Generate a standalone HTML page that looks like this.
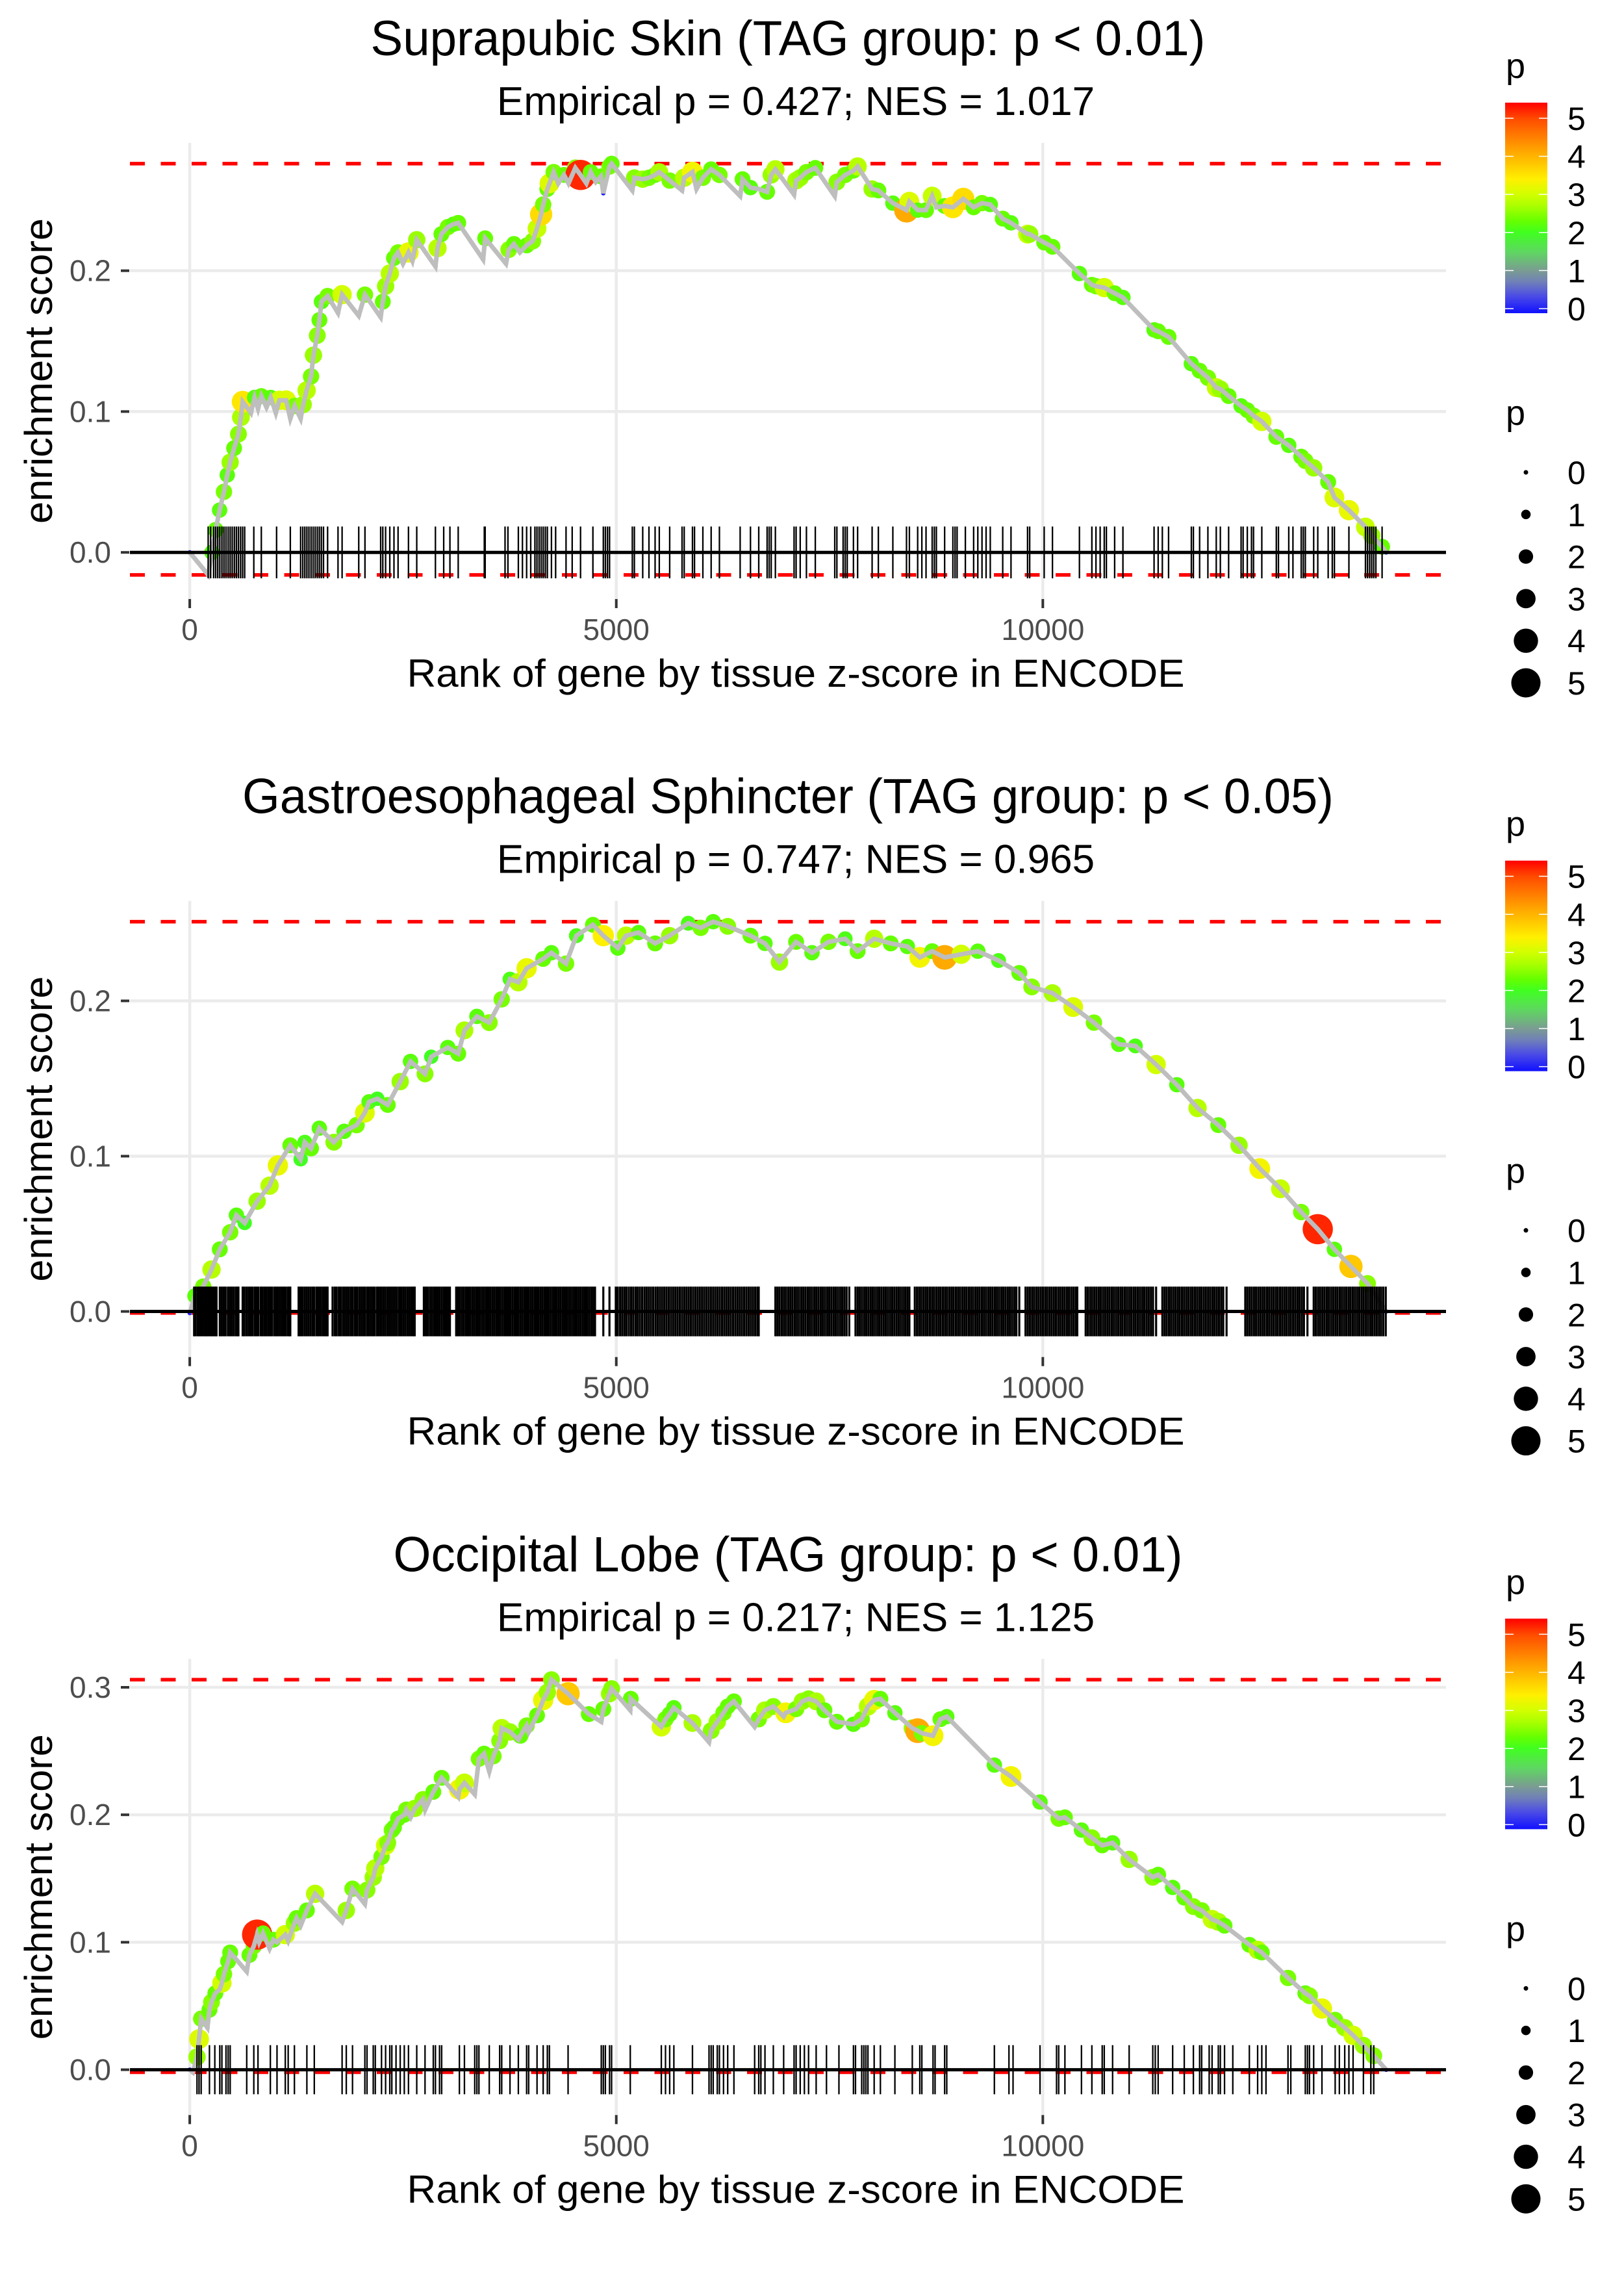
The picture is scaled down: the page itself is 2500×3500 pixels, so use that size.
<!DOCTYPE html>
<html><head><meta charset="utf-8"><title>Enrichment plots</title>
<style>html,body{margin:0;padding:0;background:#fff;}svg{display:block;}</style>
</head><body>
<svg id="chart" xmlns="http://www.w3.org/2000/svg" width="2500" height="3500" viewBox="0 0 2500 3500" font-family="'Liberation Sans', Arial, sans-serif">
<rect x="0" y="0" width="2500" height="3500" fill="#fff"/>
</svg>
<script>
// ---------- data ----------
const p1Title = "Suprapubic Skin (TAG group: p < 0.01)";
const p1Sub = "Empirical p = 0.427; NES = 1.017";
const p1Rank = [0,216,260,304,350,401,440,474,520,571,600,620,717,760,800,839,900,950,1009,1050,1130,1179,1230,1300,1330,1370,1422,1450,1495,1520,1544,1616,1738,1786,1981,2054,2238,2263,2296,2345,2394,2442,2500,2564,2610,2661,2880,2904,2950,3026,3090,3147,3439,3463,3707,3740,3800,3870,3950,4020,4071,4119,4143,4192,4217,4266,4320,4387,4440,4520,4581,4650,4700,4760,4820,4848,4921,4946,5188,5212,5310,5383,5455,5504,5626,5771,5796,5893,5940,6015,6112,6209,6452,6480,6573,6670,6768,6816,6865,7084,7108,7156,7229,7333,7561,7586,7683,7780,7829,7999,8072,8242,8402,8436,8533,8631,8703,8752,8849,8946,9068,9189,9287,9384,9530,9627,9821,9846,10016,10113,10429,10575,10623,10720,10842,10939,11304,11352,11474,11741,11838,11935,12033,12081,12178,12324,12397,12470,12567,12737,12883,13029,13077,13175,13345,13418,13588,13782,13855,13977,14025];
const p1ES = [0,-0.016,0.000,0.016,0.030,0.043,0.055,0.064,0.074,0.084,0.096,0.107,0.099,0.110,0.102,0.111,0.103,0.110,0.099,0.108,0.108,0.095,0.104,0.095,0.105,0.115,0.125,0.140,0.154,0.165,0.178,0.182,0.170,0.183,0.168,0.183,0.167,0.178,0.189,0.198,0.209,0.213,0.205,0.213,0.207,0.222,0.203,0.216,0.226,0.231,0.233,0.234,0.208,0.223,0.205,0.215,0.219,0.213,0.218,0.221,0.230,0.240,0.247,0.258,0.262,0.270,0.262,0.268,0.262,0.273,0.268,0.262,0.270,0.263,0.267,0.255,0.274,0.276,0.257,0.266,0.265,0.266,0.268,0.270,0.264,0.257,0.266,0.270,0.258,0.266,0.272,0.268,0.253,0.265,0.259,0.258,0.256,0.268,0.272,0.254,0.264,0.266,0.270,0.273,0.253,0.263,0.268,0.271,0.274,0.258,0.257,0.248,0.243,0.249,0.243,0.243,0.253,0.245,0.246,0.245,0.251,0.245,0.248,0.247,0.237,0.234,0.226,0.226,0.220,0.217,0.198,0.190,0.189,0.188,0.184,0.181,0.158,0.157,0.153,0.134,0.129,0.124,0.117,0.116,0.111,0.104,0.101,0.097,0.093,0.082,0.076,0.068,0.065,0.060,0.050,0.039,0.030,0.018,0.012,0.004,0];
const p1P = [0,0,2.2,2.3,2.2,2.4,2.2,2.6,2.3,2.5,2.7,3.5,0,2.2,0,2.3,0,2.2,0,3.0,3.1,0,2.4,0,2.6,2.8,2.4,2.6,2.5,2.3,2.2,2.4,0,3.0,0,2.4,0,2.3,2.6,2.8,2.3,2.4,0,3.2,0,2.6,0,2.8,2.3,2.4,2.2,2.3,0,2.3,0,2.5,2.3,0,2.3,2.5,2.9,3.6,2.4,2.3,3.1,2.4,0,2.3,0,2.5,5.2,0,2.3,0,2.3,0,2.4,2.3,0,2.5,2.6,2.4,2.3,2.7,2.4,0,2.8,3.3,0,2.4,2.3,2.4,0,2.3,2.2,0,2.3,2.6,2.8,0,2.7,2.6,2.4,2.3,0,2.5,2.4,2.3,2.8,2.6,2.3,2.2,4.1,3.1,2.2,2.3,2.9,0,2.3,3.5,3.6,2.3,2.4,2.2,2.3,2.2,2.9,2.6,2.3,2.3,2.2,2.3,2.4,3.0,2.3,2.2,2.2,2.3,2.3,2.2,2.3,2.4,2.9,2.6,2.3,2.2,2.3,2.4,3.0,2.3,2.2,2.3,2.4,2.6,2.3,3.1,3.2,2.9,2.6,2.3,0];
const p1Rug = [216,245,280,304,328,352,377,401,425,450,474,498,523,547,571,596,620,644,751,839,1018,1179,1300,1325,1349,1373,1397,1422,1446,1470,1495,1519,1543,1568,1616,1738,1786,1981,2054,2238,2263,2296,2345,2394,2442,2564,2661,2880,2977,3050,3147,3453,3463,3696,3730,3852,3900,3949,3997,4046,4070,4095,4119,4143,4168,4192,4240,4289,4411,4483,4581,4726,4848,4872,4897,4921,5188,5212,5310,5383,5455,5504,5626,5771,5796,5893,5917,6015,6112,6209,6452,6573,6670,6768,6792,6816,6865,7084,7108,7156,7229,7333,7561,7586,7659,7683,7707,7780,7829,7999,8072,8242,8402,8436,8533,8582,8631,8703,8728,8752,8849,8946,8971,8995,9092,9189,9238,9287,9335,9384,9530,9627,9821,9846,10016,10113,10429,10575,10623,10672,10720,10745,10842,10939,11304,11352,11401,11474,11741,11765,11838,11935,12033,12081,12178,12324,12348,12397,12446,12470,12567,12737,12762,12883,12932,13029,13053,13077,13175,13223,13345,13393,13418,13588,13782,13806,13831,13855,13879,13904,13977];
const p1YTicks = [0.0,0.1,0.2];

const p2Title = "Gastroesophageal Sphincter (TAG group: p < 0.05)";
const p2Sub = "Empirical p = 0.747; NES = 0.965";
const p2Rank = [0,61,158,255,352,474,547,644,790,936,1033,1179,1300,1349,1422,1519,1689,1810,1956,2053,2102,2199,2321,2467,2588,2758,2831,3025,3147,3220,3366,3511,3657,3754,3852,3949,4143,4240,4411,4532,4726,4848,5018,5115,5261,5455,5626,5844,5990,6136,6306,6573,6743,6913,7108,7294,7488,7683,7829,8023,8217,8412,8558,8703,8849,9044,9238,9481,9724,9870,10113,10356,10599,10890,11085,11328,11571,11814,12057,12300,12543,12786,13029,13223,13418,13612,13806,14025];
const p2ES = [-0.001,0.010,0.016,0.027,0.040,0.051,0.062,0.057,0.071,0.081,0.094,0.107,0.098,0.109,0.105,0.118,0.109,0.116,0.120,0.128,0.135,0.137,0.133,0.148,0.161,0.153,0.164,0.170,0.166,0.181,0.190,0.186,0.201,0.214,0.212,0.221,0.227,0.231,0.224,0.242,0.249,0.242,0.234,0.242,0.244,0.237,0.242,0.250,0.247,0.251,0.248,0.242,0.237,0.225,0.238,0.231,0.238,0.240,0.232,0.240,0.237,0.235,0.228,0.232,0.228,0.230,0.232,0.226,0.218,0.209,0.205,0.196,0.186,0.172,0.171,0.159,0.146,0.131,0.120,0.107,0.092,0.079,0.064,0.053,0.040,0.029,0.018,0];
const p2P = [0,2.2,2.4,2.8,2.3,2.4,2.2,2.0,2.6,2.8,3.2,2.3,2.0,2.1,2.3,2.2,2.5,2.2,2.4,3.1,2.2,2.0,2.3,2.6,2.2,2.5,2.0,2.2,2.3,2.7,2.2,2.5,2.4,2.1,2.8,3.2,2.3,2.2,2.4,2.1,2.3,3.4,2.2,2.8,2.2,2.3,2.6,2.1,2.4,2.2,2.5,2.3,2.2,2.6,2.3,2.2,2.4,2.1,2.3,2.8,2.3,2.2,3.3,2.3,4.1,3.0,2.2,2.1,2.3,2.5,2.7,3.1,2.4,2.2,2.1,3.0,2.2,2.8,2.3,2.6,3.3,2.9,2.4,5.2,2.2,3.8,2.5,0];
const p2Rug = [51,70,95,112,130,150,172,190,205,226,247,262,281,300,314,352,375,398,420,447,470,492,515,540,558,571,620,641,666,690,712,735,760,781,802,829,850,873,894,918,940,962,988,1010,1031,1055,1078,1100,1122,1147,1165,1179,1276,1298,1320,1345,1368,1391,1415,1440,1462,1488,1510,1534,1558,1580,1601,1616,1674,1700,1722,1748,1770,1795,1818,1842,1866,1890,1912,1937,1960,1985,2008,2031,2053,2078,2101,2125,2148,2170,2196,2218,2242,2266,2289,2313,2336,2360,2384,2407,2430,2455,2478,2502,2525,2549,2572,2596,2618,2637,2744,2768,2790,2815,2838,2862,2885,2909,2932,2956,2980,3003,3027,3050,3123,3145,3168,3192,3215,3240,3262,3286,3310,3333,3357,3380,3404,3428,3451,3475,3498,3522,3546,3569,3593,3616,3640,3664,3688,3711,3735,3758,3782,3806,3829,3853,3877,3900,3924,3947,3971,3995,4018,4042,4066,4089,4113,4136,4160,4184,4207,4231,4255,4278,4302,4326,4349,4373,4396,4420,4444,4467,4491,4515,4538,4562,4585,4609,4633,4656,4680,4704,4727,4751,4848,4920,4994,5018,5045,5070,5096,5121,5148,5174,5199,5226,5251,5277,5303,5330,5355,5381,5407,5433,5460,5485,5511,5537,5563,5589,5615,5641,5667,5693,5719,5745,5771,5797,5823,5849,5875,5901,5927,5953,5979,6005,6031,6057,6083,6109,6135,6161,6187,6213,6239,6265,6291,6317,6343,6369,6395,6421,6447,6473,6499,6525,6551,6577,6603,6629,6655,6670,6865,6889,6914,6940,6965,6990,7016,7041,7066,7092,7117,7142,7168,7193,7218,7244,7269,7294,7320,7345,7370,7396,7421,7446,7472,7497,7522,7548,7573,7598,7624,7649,7674,7700,7731,7804,7830,7855,7880,7906,7931,7956,7982,8007,8032,8058,8083,8108,8134,8159,8184,8210,8235,8260,8286,8311,8336,8362,8387,8412,8436,8499,8525,8550,8575,8601,8626,8651,8677,8702,8727,8753,8778,8803,8829,8854,8879,8905,8930,8955,8981,9006,9031,9057,9082,9107,9133,9158,9183,9209,9234,9259,9285,9310,9335,9361,9386,9411,9437,9462,9487,9513,9538,9563,9589,9614,9639,9665,9690,9724,9797,9823,9848,9874,9899,9925,9950,9976,10001,10027,10052,10078,10103,10129,10154,10180,10205,10231,10256,10282,10307,10333,10358,10384,10404,10502,10527,10553,10578,10604,10629,10655,10680,10706,10731,10757,10782,10808,10833,10859,10884,10910,10935,10961,10986,11012,11037,11063,11088,11114,11139,11165,11190,11216,11241,11267,11292,11328,11401,11427,11452,11478,11503,11529,11554,11580,11605,11631,11656,11682,11707,11733,11758,11784,11809,11835,11860,11886,11911,11937,11962,11988,12013,12039,12064,12090,12115,12154,12373,12398,12424,12449,12475,12500,12526,12551,12577,12602,12628,12653,12679,12704,12730,12755,12781,12806,12832,12857,12883,12908,12934,12959,12985,13010,13036,13061,13102,13175,13200,13226,13251,13277,13302,13328,13353,13379,13404,13430,13455,13481,13506,13532,13557,13583,13608,13634,13659,13685,13710,13736,13761,13787,13812,13838,13863,13889,13914,13940,13965,13991,14020];
const p2YTicks = [0.0,0.1,0.2];

const p3Title = "Occipital Lobe (TAG group: p < 0.01)";
const p3Sub = "Empirical p = 0.217; NES = 1.125";
const p3Rank = [0,36,85,109,134,207,231,255,300,352,377,401,450,474,668,700,751,790,814,860,936,980,1023,1120,1154,1227,1252,1300,1373,1470,1786,1835,1908,2053,2078,2151,2175,2248,2296,2321,2369,2394,2442,2515,2539,2590,2637,2734,2760,2855,2953,3147,3161,3220,3341,3390,3450,3511,3560,3633,3657,3754,3852,3876,3949,3973,4071,4143,4192,4240,4435,4678,4824,4848,4921,4945,5164,5170,5528,5577,5626,5675,5893,6087,6112,6184,6257,6306,6379,6622,6670,6743,6841,6962,6986,7108,7181,7254,7343,7440,7586,7780,7877,7950,8023,8096,8266,8470,8533,8582,8713,8800,8874,9432,9627,9967,10186,10259,10453,10575,10696,10818,11012,11289,11352,11522,11658,11765,11862,11984,12057,12130,12421,12518,12567,12874,13077,13126,13272,13427,13539,13637,13758,13879,14025];
const p3ES = [0,-0.002,0.010,0.024,0.040,0.033,0.047,0.053,0.060,0.063,0.068,0.075,0.085,0.092,0.077,0.090,0.097,0.106,0.100,0.107,0.095,0.102,0.100,0.106,0.101,0.115,0.119,0.113,0.125,0.138,0.116,0.125,0.142,0.130,0.141,0.151,0.158,0.167,0.176,0.178,0.188,0.190,0.197,0.200,0.204,0.198,0.205,0.212,0.204,0.218,0.229,0.214,0.220,0.225,0.216,0.244,0.248,0.234,0.246,0.258,0.268,0.265,0.259,0.262,0.270,0.265,0.278,0.290,0.296,0.306,0.295,0.279,0.273,0.283,0.295,0.299,0.282,0.291,0.269,0.275,0.279,0.284,0.272,0.257,0.266,0.273,0.280,0.285,0.289,0.269,0.275,0.282,0.285,0.277,0.280,0.283,0.289,0.291,0.289,0.282,0.273,0.271,0.275,0.285,0.290,0.291,0.280,0.268,0.266,0.264,0.262,0.275,0.277,0.239,0.230,0.210,0.197,0.198,0.188,0.182,0.176,0.178,0.165,0.151,0.153,0.143,0.135,0.128,0.125,0.118,0.116,0.113,0.098,0.094,0.092,0.072,0.060,0.058,0.048,0.039,0.033,0.027,0.019,0.011,0];
const p3P = [0,0,2.6,3.1,2.4,0,2.3,2.5,2.3,0,3.0,2.4,2.3,2.3,0,2.3,2.4,5.2,0,2.3,0,2.3,0,3.0,0,2.6,2.3,0,2.3,2.8,0,2.6,2.4,0,2.5,2.6,2.8,2.4,3.0,2.5,2.4,2.3,2.3,2.3,2.4,0,2.6,2.5,0,2.3,2.3,0,3.3,2.9,0,2.4,2.3,0,2.4,2.5,2.8,2.6,0,2.3,2.4,0,2.3,3.2,2.6,2.5,3.8,2.3,0,2.3,2.6,2.5,0,2.3,3.0,2.4,2.3,2.2,2.7,0,2.5,2.6,2.4,2.3,2.3,0,2.4,2.7,2.5,0,3.3,2.4,2.6,2.5,2.7,2.3,2.3,2.2,2.4,2.8,3.2,2.3,2.2,2.6,4.1,2.4,3.3,2.3,2.2,2.2,3.3,2.2,2.4,2.3,2.2,2.5,2.3,2.2,2.6,2.5,2.3,2.2,2.3,2.5,2.4,2.9,2.7,2.3,2.3,2.8,2.3,2.4,2.3,2.5,3.2,2.4,2.6,3.0,2.6,2.5,0];
const p3Rug = [85,109,134,231,294,352,377,425,450,474,668,751,800,945,1023,1120,1154,1227,1373,1460,1786,1835,1908,2053,2078,2151,2175,2248,2296,2345,2369,2418,2467,2515,2564,2661,2758,2855,2880,2928,2953,3161,3220,3341,3366,3390,3511,3633,3657,3754,3852,3949,3973,4071,4143,4192,4216,4435,4824,4848,4872,4921,4945,5164,5528,5577,5626,5675,5893,6087,6112,6136,6184,6209,6257,6306,6379,6622,6670,6695,6743,6841,6962,7084,7108,7156,7205,7254,7343,7464,7610,7780,7804,7877,7902,7926,7950,8023,8096,8266,8470,8558,8582,8713,8737,8849,8874,9432,9603,9651,9967,10161,10186,10259,10453,10575,10696,10720,10818,11012,11289,11318,11352,11522,11658,11765,11838,11862,11950,11984,12057,12081,12130,12227,12421,12518,12567,12616,12874,12907,13077,13102,13126,13175,13272,13427,13476,13539,13588,13637,13758,13845,13879];
const p3YTicks = [0.0,0.1,0.2,0.3];

const xTicks = [0,5000,10000];
const legendColorTicks = [0,1,2,3,4,5];
const legendSizeValues = [0,1,2,3,4,5];
const rugHalfs = [0.0184,0.016,0.0193];
const rugWidths = [2.3,3.2,2.3];

// ---------- drawing ----------
const NS = "http://www.w3.org/2000/svg";
const svg = document.getElementById("chart");
function mk(tag, attrs, parent){
  const e = document.createElementNS(NS, tag);
  for (const k in attrs) e.setAttribute(k, attrs[k]);
  (parent || svg).appendChild(e);
  return e;
}
const stops = [[-0.12,"#1010ff"],[0.3,"#4848e8"],[0.7,"#7080b8"],[1.0,"#7a9c92"],[1.5,"#5ed860"],[2.0,"#40ff20"],[2.3,"#66ff00"],[2.7,"#aaff00"],[3.0,"#d2ff00"],[3.4,"#fff000"],[3.8,"#ffc800"],[4.2,"#ffa000"],[4.7,"#ff6a00"],[5.0,"#ff4a00"],[5.41,"#ff0000"]];
function hex2rgb(h){return [parseInt(h.substr(1,2),16),parseInt(h.substr(3,2),16),parseInt(h.substr(5,2),16)];}
function pColor(v){
  if (v <= stops[0][0]) return stops[0][1];
  for (let i=1;i<stops.length;i++){
    if (v <= stops[i][0]){
      const t=(v-stops[i-1][0])/(stops[i][0]-stops[i-1][0]);
      const a=hex2rgb(stops[i-1][1]), b=hex2rgb(stops[i][1]);
      return "rgb("+a.map((c,j)=>Math.round(c+(b[j]-c)*t)).join(",")+")";
    }
  }
  return stops[stops.length-1][1];
}
function pRadius(v){ return 3.5 + 3.8*v; }

const PANEL_H = 1166.67, PL = 200, PR = 2226, PT = 220, PB = 922;
const grad = mk("linearGradient",{id:"pgrad",x1:"0",y1:"1",x2:"0",y2:"0"});
stops.forEach(s=>{ mk("stop",{offset:((s[0]+0.12)/5.53).toFixed(4),"stop-color":s[1]},grad); });

const panels = [
  {title:p1Title, sub:p1Sub, rank:p1Rank, es:p1ES, p:p1P, rug:p1Rug, yt:p1YTicks},
  {title:p2Title, sub:p2Sub, rank:p2Rank, es:p2ES, p:p2P, rug:p2Rug, yt:p2YTicks},
  {title:p3Title, sub:p3Sub, rank:p3Rank, es:p3ES, p:p3P, rug:p3Rug, yt:p3YTicks}
];

panels.forEach((P, i) => {
  const oy = i*PANEL_H;
  const g = mk("g",{});
  
  
  const rh = rugHalfs[i];
  const esMax = Math.max(...P.es), esMin = Math.min(...P.es);
  const lo = Math.min(esMin,-rh), hi = Math.max(esMax, rh);
  const y0 = lo-(hi-lo)*0.05, y1 = hi+(hi-lo)*0.05;
  const xMax = Math.max(...P.rank, ...P.rug);
  const x0 = -xMax*0.05, x1 = xMax*1.05;
  const X = r => PL + (r-x0)/(x1-x0)*(PR-PL);
  const Y = v => oy + PT + (y1-v)/(y1-y0)*(PB-PT);

  const t = mk("text",{x:1213,y:oy+85,"text-anchor":"middle","font-size":76,fill:"#000",textLength:1285,lengthAdjust:"spacingAndGlyphs"},g);
  t.textContent = P.title;
  
  
  if (i===1){ t.setAttribute("textLength", 1680); }
  if (i===2){ t.setAttribute("textLength", 1215); }
  const st = mk("text",{x:1225,y:oy+177,"text-anchor":"middle","font-size":62,fill:"#000"},g);
  st.textContent = P.sub;
  
  

  P.yt.forEach(v=>{
    const l = mk("line",{x1:PL,x2:PR,y1:Y(v),y2:Y(v),stroke:"#ebebeb","stroke-width":4.5},g);
    
    
  });
  xTicks.forEach(v=>{
    const l = mk("line",{x1:X(v),x2:X(v),y1:oy+PT,y2:oy+PB,stroke:"#ebebeb","stroke-width":4.5},g);
    
    
  });

  [esMax, esMin].forEach(v=>{
    const l = mk("line",{x1:PL,x2:PR,y1:Y(v),y2:Y(v),stroke:"#ff0000","stroke-width":5.5,"stroke-dasharray":"23 24.5"},g);
    
    
  });

  P.rank.forEach((r,k)=>{
    const c = mk("circle",{cx:X(r),cy:Y(P.es[k]),r:pRadius(P.p[k]),fill:pColor(P.p[k])},g);
    
    
  });

  const pts = P.rank.map((r,k)=>X(r).toFixed(1)+","+Y(P.es[k]).toFixed(1)).join(" ");
  const pl = mk("polyline",{points:pts,fill:"none",stroke:"#bebebe","stroke-width":7,"stroke-linejoin":"miter"},g);
  
  

  const rg = mk("g",{},g);
  
  
  P.rug.forEach(r=>{
    const l = mk("line",{x1:X(r),x2:X(r),y1:Y(rh),y2:Y(-rh),stroke:"#000","stroke-width":rugWidths[i]},rg);
    
    
  });

  const z = mk("line",{x1:PL,x2:PR,y1:Y(0),y2:Y(0),stroke:"#000","stroke-width":5},g);
  
  

  P.yt.forEach(v=>{
    const tk = mk("line",{x1:186,x2:199,y1:Y(v),y2:Y(v),stroke:"#333","stroke-width":4},g);
    
    
    const lb = mk("text",{x:171,y:Y(v)+16,"text-anchor":"end","font-size":46,fill:"#4d4d4d"},g);
    lb.textContent = v.toFixed(1);
    
    
  });
  xTicks.forEach(v=>{
    const tk = mk("line",{x1:X(v),x2:X(v),y1:oy+922,y2:oy+936,stroke:"#333","stroke-width":4},g);
    
    
    const lb = mk("text",{x:X(v),y:oy+985,"text-anchor":"middle","font-size":46,fill:"#4d4d4d"},g);
    lb.textContent = String(v);
    
    
  });
  const xt = mk("text",{x:1225,y:oy+1057,"text-anchor":"middle","font-size":60,fill:"#000",textLength:1197,lengthAdjust:"spacingAndGlyphs"},g);
  xt.textContent = "Rank of gene by tissue z-score in ENCODE";
  
  
  const cy = oy+571;
  const yt = mk("text",{x:80,y:cy,"text-anchor":"middle","font-size":60,fill:"#000",transform:"rotate(-90 80 "+cy+")",textLength:470,lengthAdjust:"spacingAndGlyphs"},g);
  yt.textContent = "enrichment score";
  
  

  const lg = mk("g",{},g);
  
  
  const lt = mk("text",{x:2318,y:oy+120,"font-size":54,fill:"#000"},lg);
  lt.textContent = "p";
  
  
  const LY = v => oy + 475 - v*58.6;
  const bar = mk("rect",{x:2317,y:LY(5.41),width:65,height:LY(-0.12)-LY(5.41),fill:"url(#pgrad)"},lg);
  
  
  legendColorTicks.forEach(v=>{
    const a = mk("line",{x1:2317,x2:2330,y1:LY(v),y2:LY(v),stroke:"#fff","stroke-width":1.5},lg);
    
    
    const b = mk("line",{x1:2369,x2:2382,y1:LY(v),y2:LY(v),stroke:"#fff","stroke-width":1.5},lg);
    
    
    const lb = mk("text",{x:2413,y:LY(v)+18,"font-size":50,fill:"#000"},lg);
    lb.textContent = String(v);
    
    
  });

  const sg = mk("g",{},g);
  
  
  const st2 = mk("text",{x:2318,y:oy+654,"font-size":54,fill:"#000"},sg);
  st2.textContent = "p";
  
  
  legendSizeValues.forEach((v,k)=>{
    const yy = oy + 727 + k*64.8;
    const c = mk("circle",{cx:2349,cy:yy,r:pRadius(v),fill:"#000"},sg);
    
    
    const lb = mk("text",{x:2413,y:yy+18,"font-size":50,fill:"#000"},sg);
    lb.textContent = String(v);
    
    
  });
});
</script>
</body></html>
